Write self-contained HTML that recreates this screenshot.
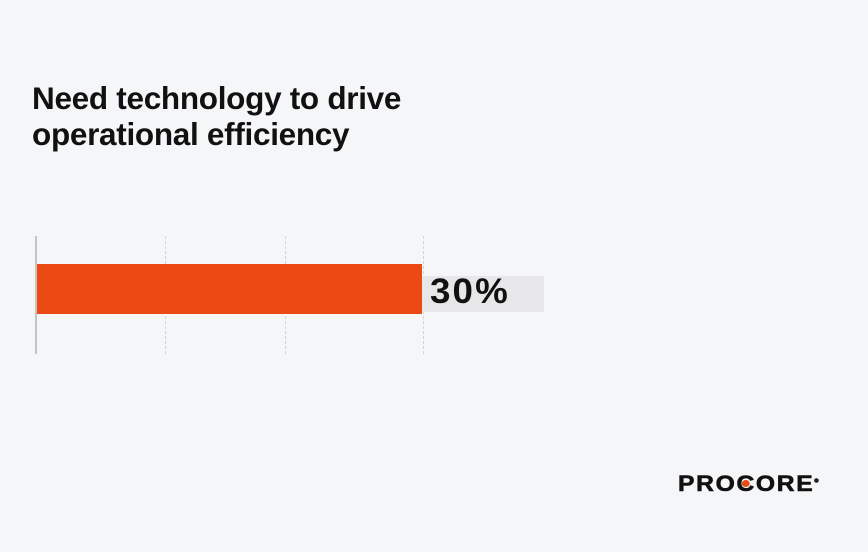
<!DOCTYPE html>
<html><head><style>
body{margin:0;width:868px;height:552px;background:#f5f6f8;position:relative;overflow:hidden;font-family:"Liberation Sans",sans-serif}
.t{position:absolute;left:32px;top:80px;font-size:31.5px;font-weight:bold;line-height:36px;color:#111;letter-spacing:-0.3px}
.ax{position:absolute;left:35px;top:236px;width:2px;height:118px;background:#c4c4c4}
.g{position:absolute;top:236px;height:118px;border-left:1px dashed #d4d4d6}
.bar{position:absolute;left:37px;top:264px;width:385px;height:50px;background:#eb4a15}
.lb{position:absolute;left:422px;top:276px;width:122px;height:36px;background:#e7e7e9}
.lt{position:absolute;left:430px;top:272px;font-size:35px;font-weight:900;color:#111;letter-spacing:2px;transform:scaleX(1.05);transform-origin:left}
.logo{position:absolute;left:678px;top:471px;font-size:22px;font-weight:900;color:#111;letter-spacing:1.5px;transform:scaleX(1.12);transform-origin:left;-webkit-text-stroke:0.6px #111}
</style></head><body>
<div class="t">Need technology to drive<br>operational efficiency</div>
<div class="g" style="left:165px"></div>
<div class="g" style="left:285px"></div>
<div class="g" style="left:423px"></div>
<div class="ax"></div>
<div class="lb"></div>
<div class="bar"></div>
<div class="lt">30%</div>
<div class="logo">PRO<span style="position:relative">C<span style="position:absolute;left:5px;top:9px;width:7px;height:7px;border-radius:50%;background:#eb4a15;-webkit-text-stroke:0"></span></span>ORE<sup style="font-size:5px">®</sup></div>
</body></html>
